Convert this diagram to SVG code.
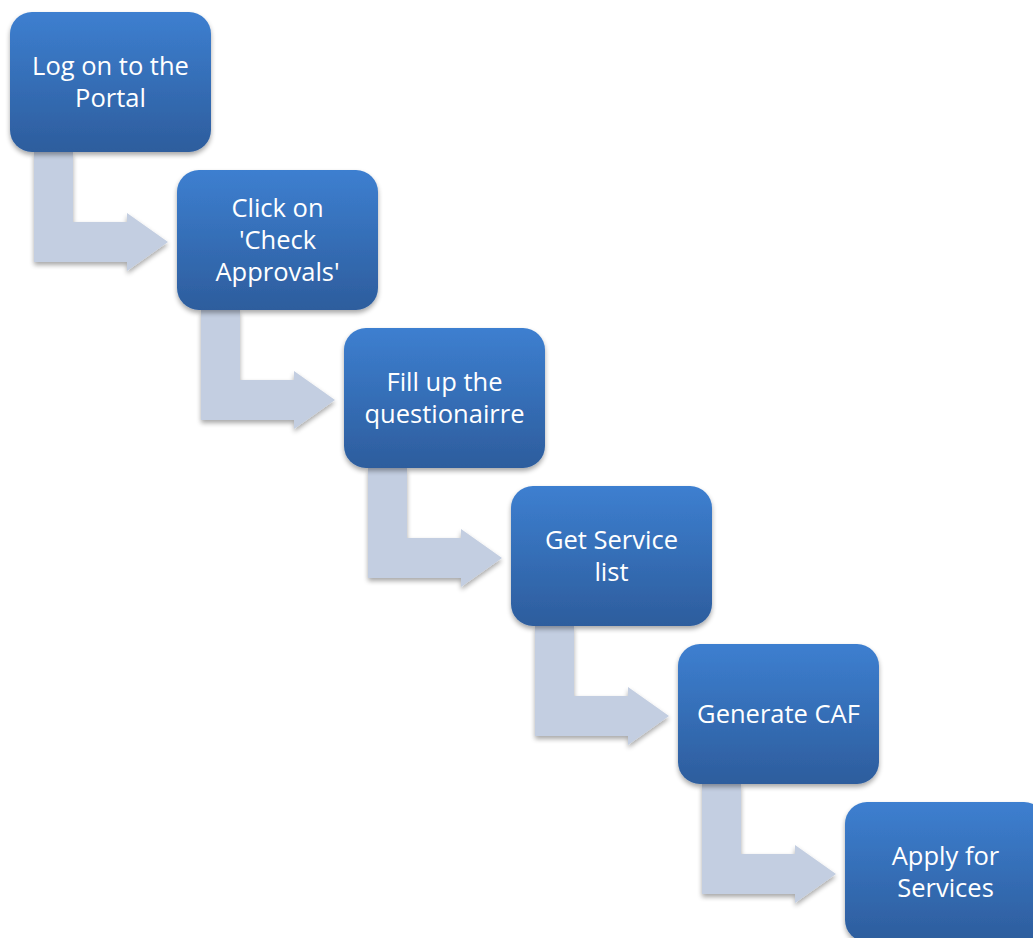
<svg xmlns="http://www.w3.org/2000/svg" width="1033" height="938" viewBox="0 0 1033 938">
<defs>
<linearGradient id="g" x1="0" y1="0" x2="0" y2="1">
<stop offset="0" stop-color="#3D7FD0"/>
<stop offset="1" stop-color="#2D5D9D"/>
</linearGradient>
<filter id="sh" x="-10%" y="-10%" width="125%" height="130%">
<feGaussianBlur in="SourceAlpha" stdDeviation="2.5"/>
<feOffset dx="0" dy="3" result="b"/>
<feComponentTransfer><feFuncA type="linear" slope="0.35"/></feComponentTransfer>
<feMerge><feMergeNode/><feMergeNode in="SourceGraphic"/></feMerge>
</filter>
<path id="arr" d="M34,152 H73 V222 H127 V213 L168,242 L127,271 V262 H34 Z"/>
<rect id="box" x="0" y="0" width="201" height="140" rx="22" ry="22"/>
</defs>
<style>
.a{fill:#C3CEE1;filter:url(#sh)}
.b{fill:url(#g);filter:url(#sh)}
.t{fill:#fff;font-family:"Open Sans","Liberation Sans",sans-serif;font-size:25.5px;text-anchor:middle}
</style>
<rect width="1033" height="938" fill="#fff"/>
<g id="connectors">
<use href="#arr" class="a"/>
<use href="#arr" class="a" transform="translate(167,158)"/>
<use href="#arr" class="a" transform="translate(334,316)"/>
<use href="#arr" class="a" transform="translate(501,474)"/>
<use href="#arr" class="a" transform="translate(668,632)"/>
</g>
<g id="n1" transform="translate(10,12)">
<use href="#box" class="b"/>
<text class="t" x="100.5" y="63">Log on to the</text>
<text class="t" x="100.5" y="95">Portal</text>
</g>
<g id="n2" transform="translate(177,170)">
<use href="#box" class="b"/>
<text class="t" x="100.5" y="47">Click on</text>
<text class="t" x="100.5" y="79">'Check</text>
<text class="t" x="100.5" y="111">Approvals'</text>
</g>
<g id="n3" transform="translate(344,328)">
<use href="#box" class="b"/>
<text class="t" x="100.5" y="63">Fill up the</text>
<text class="t" x="100.5" y="95">questionairre</text>
</g>
<g id="n4" transform="translate(511,486)">
<use href="#box" class="b"/>
<text class="t" x="100.5" y="63">Get Service</text>
<text class="t" x="100.5" y="95">list</text>
</g>
<g id="n5" transform="translate(678,644)">
<use href="#box" class="b"/>
<text class="t" x="100.5" y="79">Generate CAF</text>
</g>
<g id="n6" transform="translate(845,802)">
<use href="#box" class="b"/>
<text class="t" x="100.5" y="63">Apply for</text>
<text class="t" x="100.5" y="95">Services</text>
</g>
</svg>
